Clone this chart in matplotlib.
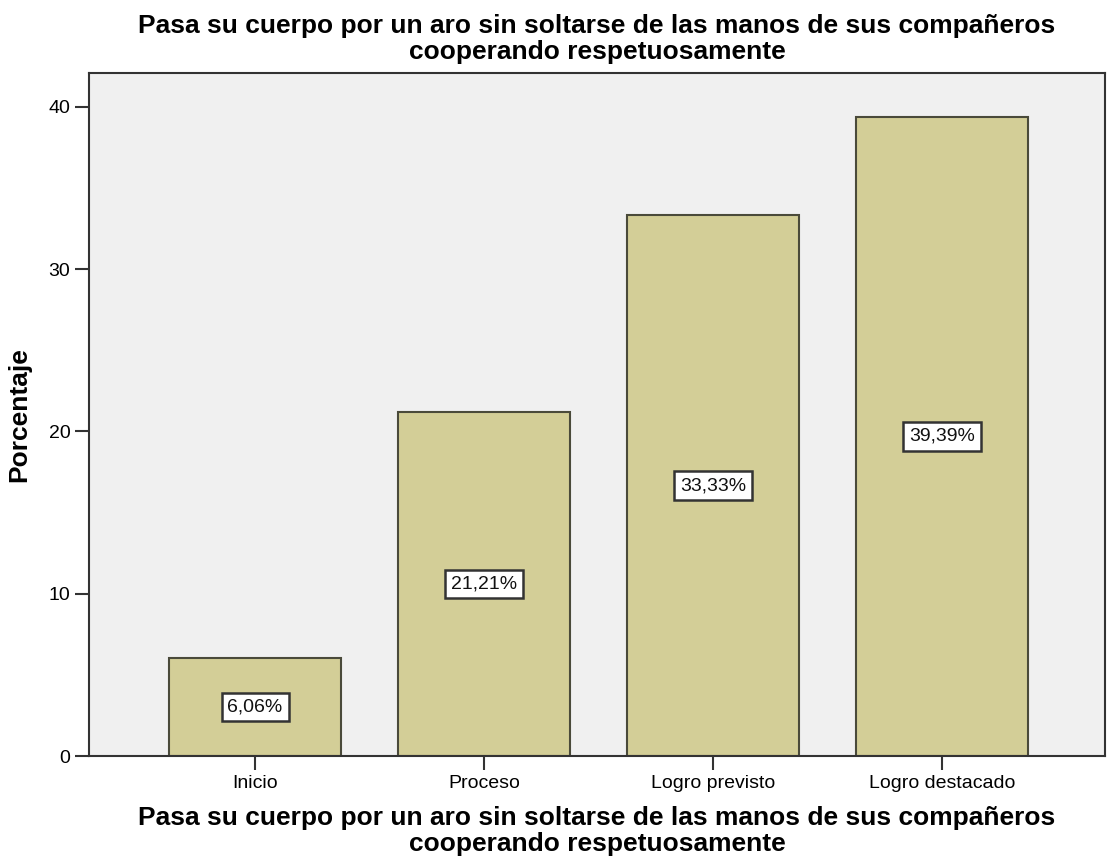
import numpy as np
import matplotlib.pyplot as plt

categorias = ['Inicio', 'Proceso', 'Logro previsto', 'Logro destacado']
porcentajes = [6.06, 21.21, 33.33, 39.39]
etiquetas = ['6,06%', '21,21%', '33,33%', '39,39%']
titulo = 'Pasa su cuerpo por un aro sin soltarse de las manos de sus compañeros\ncooperando respetuosamente'

plt.rcParams['font.family'] = ['Liberation Sans', 'DejaVu Sans']

fig = plt.figure(figsize=(11.07, 8.67), dpi=100)
ax = fig.add_axes([0.0804, 0.128, 0.9176, 0.788])
ax.set_facecolor('#f0f0f0')

x = np.arange(len(categorias))
ax.bar(x, porcentajes, width=0.75, color='#d3ce97', edgecolor='#4a4a3a', linewidth=1.5)

for xi, v, t in zip(x, porcentajes, etiquetas):
    ax.text(xi, v / 2, t, ha='center', va='center', fontsize=14, color='#111111',
            bbox=dict(boxstyle='square,pad=0.3', facecolor='white', edgecolor='#333333', linewidth=1.8))

ax.set_xlim(-0.725, 3.71)
ax.set_ylim(0, 42.1)
ax.set_yticks([0, 10, 20, 30, 40])
ax.set_xticks(x)
ax.set_xticklabels(categorias)
ax.tick_params(axis='both', labelsize=14, length=10, width=1.5, color='#333333')

for s in ax.spines.values():
    s.set_linewidth(1.5)
    s.set_color('#333333')

ax.set_ylabel('Porcentaje', fontsize=19, fontweight='bold', labelpad=12)
ax.set_xlabel(titulo, fontsize=19, fontweight='bold', labelpad=10, linespacing=1.1)
ax.set_title(titulo, fontsize=19, fontweight='bold', pad=10, linespacing=1.1)

fig.savefig('out.png', dpi=100)
